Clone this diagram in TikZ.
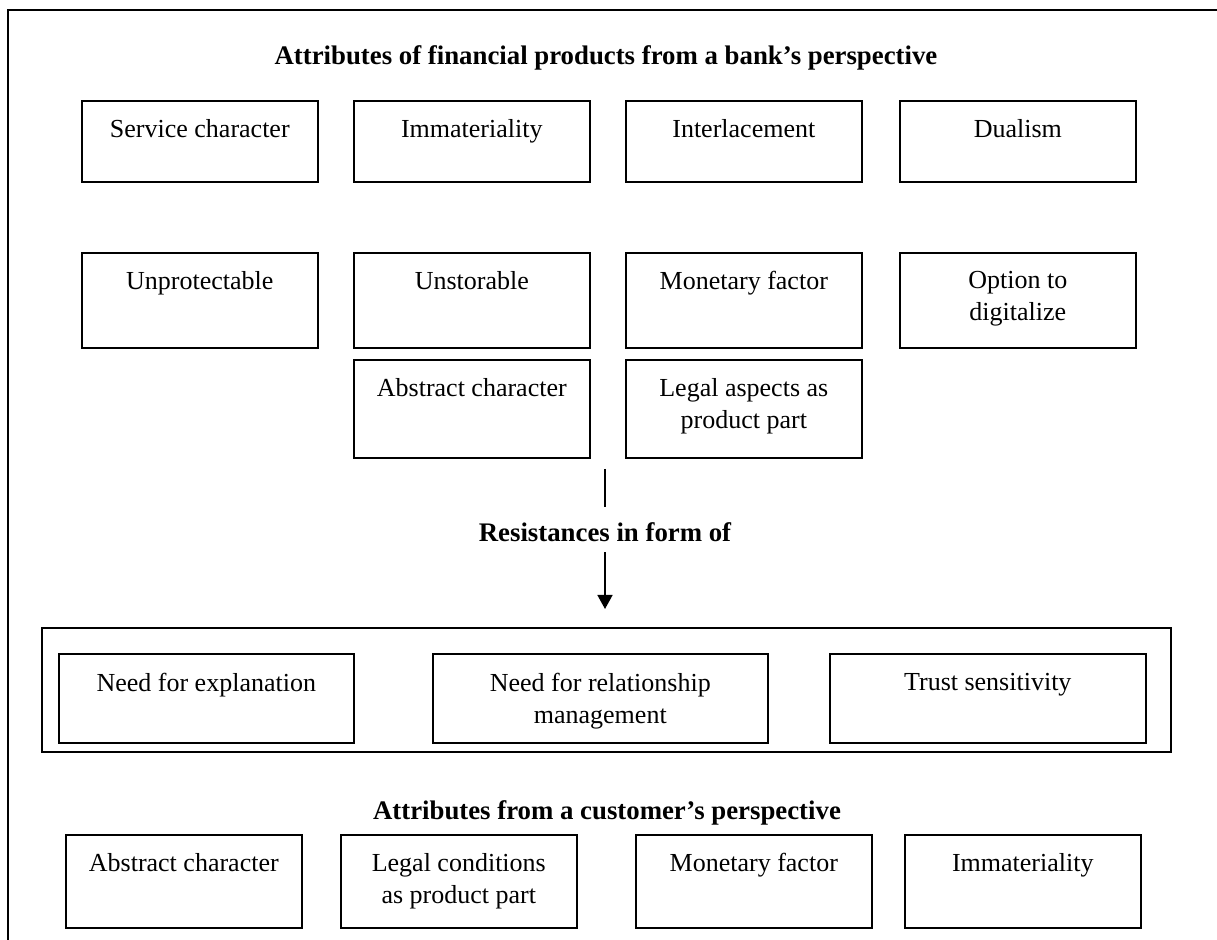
\documentclass[tikz,border=0pt]{standalone}
\usepackage{fontspec}
\setmainfont{Liberation Serif}
\usetikzlibrary{positioning,arrows.meta}

\begin{document}
\begin{tikzpicture}[x=0.5pt,y=-0.5pt,
	attr/.style={draw,line width=0.8pt,anchor=north west,minimum width=118pt,inner sep=0pt},
	attrtext/.style={inner sep=0pt,align=center,font=\fontsize{13}{16}\selectfont},
	heading/.style={inner sep=0pt,anchor=base,font=\fontsize{13.4}{16}\selectfont\bfseries}]
	
	\useasboundingbox (0,0) rectangle (1217,940);
	\draw[line width=0.8pt](1217,10)--(8,10)--(8,940);
	
	% bank's perspective
	\node[heading] (bankhead) at (606,65) {Attributes of financial products from a bank's perspective};
	
	\node[attr,minimum height=40.5pt] (service) at (81,100) {};
	\node[attrtext,below=9.5pt of service.north] (serviceT) {Service character};
	\node[attr,minimum height=40.5pt] (immat) at (353,100) {};
	\node[attrtext,below=9.5pt of immat.north] (immatT) {Immateriality};
	\node[attr,minimum height=40.5pt] (interl) at (625,100) {};
	\node[attrtext,below=9.5pt of interl.north] (interlT) {Interlacement};
	\node[attr,minimum height=40.5pt] (dual) at (899,100) {};
	\node[attrtext,below=9.5pt of dual.north] (dualT) {Dualism};
	
	\node[attr,minimum height=47.5pt] (unprot) at (81,252) {};
	\node[attrtext,below=9.5pt of unprot.north] (unprotT) {Unprotectable};
	\node[attr,minimum height=47.5pt] (unstor) at (353,252) {};
	\node[attrtext,below=9.5pt of unstor.north] (unstorT) {Unstorable};
	\node[attr,minimum height=47.5pt] (monet) at (625,252) {};
	\node[attrtext,below=9.5pt of monet.north] (monetT) {Monetary factor};
	\node[attr,minimum height=47.5pt] (digit) at (899,252) {};
	\node[attrtext,below=9.5pt of digit.north] (digitT) {Option to\\digitalize};
	
	\node[attr,minimum height=49pt] (abstr) at (353,359) {};
	\node[attrtext,below=9.5pt of abstr.north] (abstrT) {Abstract character};
	\node[attr,minimum height=49pt] (legal) at (625,359) {};
	\node[attrtext,below=9.5pt of legal.north] (legalT) {Legal aspects as\\product part};
	
	% resistances
	\coordinate (restop) at (605,469);
	\node[heading,text height=17.5pt,text depth=5pt] (resist) at (605,542) {Resistances in form of};
	\node[draw,line width=0.8pt,anchor=north west,inner sep=0pt,minimum width=564.5pt,minimum height=62pt] (resframe) at (41,627) {};
	\draw[line width=0.8pt](restop)--(resist.north);
	\draw[line width=0.8pt,-{Triangle[width=7.5pt,length=7pt]},shorten >=9pt](resist.south)--(resist.south |- resframe.north);
	
	\node[attr,minimum width=147.5pt,minimum height=44.5pt] (explain) at (58,653) {};
	\node[attrtext,below=10pt of explain.north] (explainT) {Need for explanation};
	\node[attr,minimum width=167.5pt,minimum height=44.5pt] (relation) at (432,653) {};
	\node[attrtext,below=10pt of relation.north] (relationT) {Need for relationship\\management};
	\node[attr,minimum width=158pt,minimum height=44.5pt] (trust) at (829,653) {};
	\node[attrtext,below=10pt of trust.north] (trustT) {Trust sensitivity};
	
	% customer's perspective
	\node[heading] (custhead) at (607,820) {Attributes from a customer's perspective};
	
	\node[attr,minimum height=46.5pt] (cabstr) at (65,834) {};
	\node[attrtext,below=9.5pt of cabstr.north] (cabstrT) {Abstract character};
	\node[attr,minimum height=46.5pt] (clegal) at (340,834) {};
	\node[attrtext,below=9.5pt of clegal.north] (clegalT) {Legal conditions\\as product part};
	\node[attr,minimum height=46.5pt] (cmonet) at (635,834) {};
	\node[attrtext,below=9.5pt of cmonet.north] (cmonetT) {Monetary factor};
	\node[attr,minimum height=46.5pt] (cimmat) at (904,834) {};
	\node[attrtext,below=9.5pt of cimmat.north] (cimmatT) {Immateriality};
	
\end{tikzpicture}
\end{document}
